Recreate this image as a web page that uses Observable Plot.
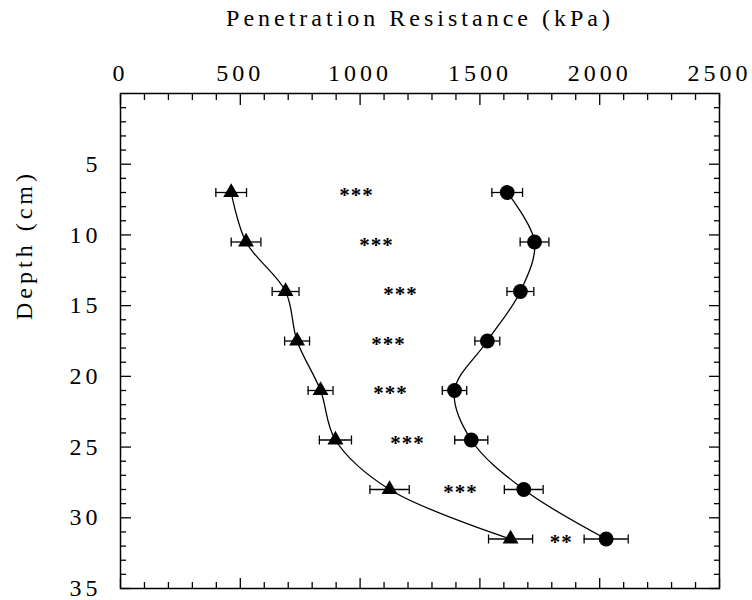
<!DOCTYPE html>
<html><head><meta charset="utf-8">
<script src="https://cdn.jsdelivr.net/npm/d3@7"></script>
<script src="https://cdn.jsdelivr.net/npm/@observablehq/plot@0.6"></script>
<style>
body{margin:0;background:#fff;}
svg, svg text{font-family:"Liberation Serif", "Times New Roman", Tinos, "DejaVu Serif", serif !important;}
svg text{letter-spacing:4px;}
svg text.stars{letter-spacing:1px !important;}
</style></head><body><div id="chart"></div>
<script>
// Depth (cm) of each measurement
const depths = [7, 10.5, 14, 17.5, 21, 24.5, 28, 31.5];
// Triangle series: penetration resistance (kPa) and error
const triValues = [462, 524, 689, 737, 835, 897, 1123, 1628];
const triErrors = [64, 62, 56, 52, 52, 67, 82, 92];
// Circle series: penetration resistance (kPa) and error
const circValues = [1614, 1728, 1669, 1531, 1394, 1464, 1683, 2027];
const circErrors = [64, 60, 56, 52, 51, 69, 81, 92];
// Significance markers
const starX = [985, 1068, 1169, 1119, 1127, 1198, 1419, 1840];
const starText = ["***", "***", "***", "***", "***", "***", "***", "**"];
// Ticks
const xTicks = [0, 500, 1000, 1500, 2000, 2500];
const xMinor = [100,200,300,400,600,700,800,900,1100,1200,1300,1400,1600,1700,1800,1900,2100,2200,2300,2400];
const yTicks = [5, 10, 15, 20, 25, 30, 35];
const yMinor = [1,2,3,4,6,7,8,9,11,12,13,14,16,17,18,19,21,22,23,24,26,27,28,29,31,32,33,34];
const xTitle = "Penetration Resistance (kPa)";
const yTitle = "Depth (cm)";

const rows = depths.map((d, i) => ({
  depth: d, tri: triValues[i], triErr: triErrors[i],
  circ: circValues[i], circErr: circErrors[i],
  star: starX[i], stars: starText[i]
}));

const capSymbol = {draw(ctx, size) { const h = Math.sqrt(size / Math.PI); ctx.moveTo(0, -h); ctx.lineTo(0, h); }};
const ink = "black";
const sw = 1.3;
const fmt = d => String(d);

const chart = Plot.plot({
  width: 752, height: 600,
  marginLeft: 120, marginRight: 33, marginTop: 93, marginBottom: 12,
  style: {fontSize: "24px", color: "black", background: "white"},
  x: {domain: [0, 2500], label: null},
  y: {domain: [0, 35], reverse: true, label: null},
  marks: [
    Plot.frame({stroke: ink, strokeWidth: 1.5}),
    // tick labels
    Plot.axisX(xTicks, {anchor: "top", tickSize: 0, tickPadding: 13, fontSize: 24, tickFormat: fmt, label: null}),
    Plot.axisY(yTicks, {anchor: "left", tickSize: 0, tickPadding: 19, fontSize: 24, tickFormat: fmt, label: null}),
    // inward ticks
    Plot.axisX(xTicks, {anchor: "top", tickSize: -11, fill: "none", strokeWidth: 1.3, label: null}),
    Plot.axisX(xMinor, {anchor: "top", tickSize: -6, fill: "none", strokeWidth: 1.3, label: null}),
    Plot.axisX(xTicks, {anchor: "bottom", tickSize: -10, fill: "none", strokeWidth: 1.3, label: null}),
    Plot.axisX(xMinor, {anchor: "bottom", tickSize: -6, fill: "none", strokeWidth: 1.3, label: null}),
    Plot.axisY(yTicks, {anchor: "left", tickSize: -11, fill: "none", strokeWidth: 1.3, label: null}),
    Plot.axisY(yMinor, {anchor: "left", tickSize: -6, fill: "none", strokeWidth: 1.3, label: null}),
    Plot.axisY(yTicks, {anchor: "right", tickSize: -11, fill: "none", strokeWidth: 1.3, label: null}),
    Plot.axisY(yMinor, {anchor: "right", tickSize: -6, fill: "none", strokeWidth: 1.3, label: null}),
    // titles
    Plot.text([xTitle], {text: d => d, frameAnchor: "top", dy: -75, lineAnchor: "middle", fontSize: 24}),
    Plot.text([yTitle], {text: d => d, frameAnchor: "left", rotate: -90, dx: -96, dy: -21, lineAnchor: "middle", fontSize: 24}),
    // curves
    Plot.line(rows, {x: "tri", y: "depth", curve: "catmull-rom", stroke: ink, strokeWidth: sw}),
    Plot.line(rows, {x: "circ", y: "depth", curve: "catmull-rom", stroke: ink, strokeWidth: sw}),
    // error bars
    Plot.ruleY(rows, {y: "depth", x1: d => d.tri - d.triErr, x2: d => d.tri + d.triErr, stroke: ink, strokeWidth: sw}),
    Plot.ruleY(rows, {y: "depth", x1: d => d.circ - d.circErr, x2: d => d.circ + d.circErr, stroke: ink, strokeWidth: sw}),
    Plot.dot(rows, {x: d => d.tri - d.triErr, y: "depth", symbol: capSymbol, r: 4.5, fill: "none", stroke: ink, strokeWidth: sw}),
    Plot.dot(rows, {x: d => d.tri + d.triErr, y: "depth", symbol: capSymbol, r: 4.5, fill: "none", stroke: ink, strokeWidth: sw}),
    Plot.dot(rows, {x: d => d.circ - d.circErr, y: "depth", symbol: capSymbol, r: 4.5, fill: "none", stroke: ink, strokeWidth: sw}),
    Plot.dot(rows, {x: d => d.circ + d.circErr, y: "depth", symbol: capSymbol, r: 4.5, fill: "none", stroke: ink, strokeWidth: sw}),
    // markers
    Plot.dot(rows, {x: "tri", y: "depth", symbol: "triangle", r: 5.9, fill: ink, stroke: "none"}),
    Plot.dot(rows, {x: "circ", y: "depth", symbol: "circle", r: 7.4, fill: ink, stroke: "none"}),
    // significance
    Plot.text(rows, {x: "star", y: "depth", text: "stars", fontSize: 21, fontWeight: "bold", dy: 3, fill: ink})
  ]
});
d3.select(chart).selectAll("text")
  .filter(function() { return /^\*+$/.test(this.textContent); })
  .classed("stars", true)
  .style("letter-spacing", "1px");
document.getElementById("chart").appendChild(chart);
</script></body></html>
